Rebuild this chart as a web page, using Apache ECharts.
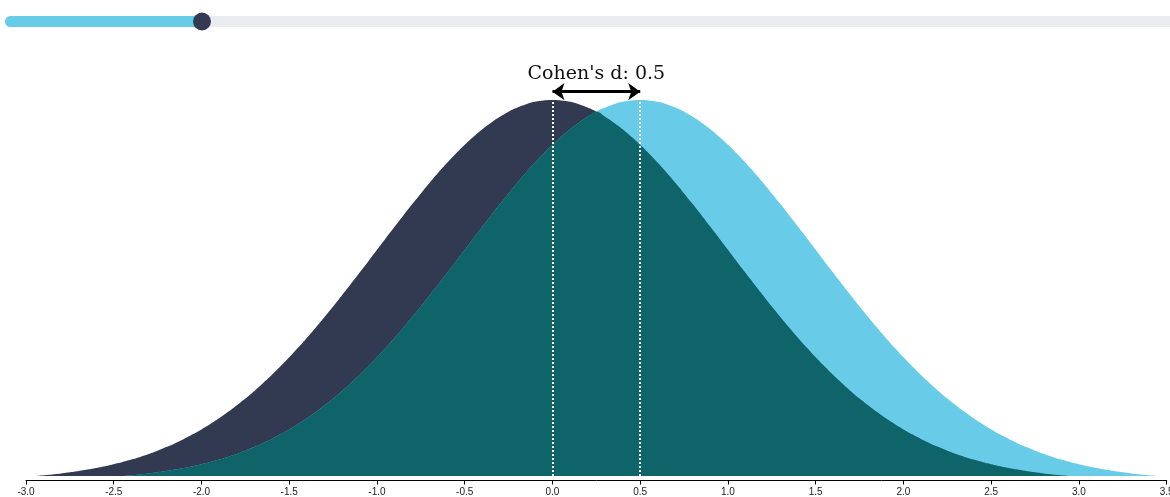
<!DOCTYPE html>
<html>
<head>
<meta charset="utf-8">
<script src="https://cdn.jsdelivr.net/npm/echarts@6/dist/echarts.min.js"></script>
<style>html,body{margin:0;padding:0;background:#fff;overflow:hidden;}#c{width:1170px;height:497px;}</style>
</head>
<body>
<div id="c"></div>
<script>
// Effect size shown by the slider
const cohensD = 0.5;
const sliderMax = 3;
// x positions (step 0.05) for the control group curve, from -3 to 3
const xStep = 0.05;
const xStart = -3;
// Density heights (control curve, x = -3 .. 3 in 0.05 steps)
const density = [
0.0044,0.0051,0.0060,0.0069,0.0079,0.0091,0.0104,0.0119,0.0136,0.0154,
0.0175,0.0198,0.0224,0.0252,0.0283,0.0317,0.0355,0.0396,0.0440,0.0488,
0.0540,0.0596,0.0656,0.0721,0.0790,0.0863,0.0940,0.1023,0.1109,0.1200,
0.1295,0.1394,0.1497,0.1604,0.1714,0.1826,0.1942,0.2059,0.2179,0.2299,
0.2420,0.2541,0.2661,0.2780,0.2897,0.3011,0.3123,0.3230,0.3332,0.3429,
0.3521,0.3605,0.3683,0.3752,0.3814,0.3867,0.3910,0.3945,0.3970,0.3984,
0.3989,
0.3984,0.3970,0.3945,0.3910,0.3867,0.3814,0.3752,0.3683,0.3605,0.3521,
0.3429,0.3332,0.3230,0.3123,0.3011,0.2897,0.2780,0.2661,0.2541,0.2420,
0.2299,0.2179,0.2059,0.1942,0.1826,0.1714,0.1604,0.1497,0.1394,0.1295,
0.1200,0.1109,0.1023,0.0940,0.0863,0.0790,0.0721,0.0656,0.0596,0.0540,
0.0488,0.0440,0.0396,0.0355,0.0317,0.0283,0.0252,0.0224,0.0198,0.0175,
0.0154,0.0136,0.0119,0.0104,0.0091,0.0079,0.0069,0.0060,0.0051,0.0044
];
const xTickLabels = ['-3.0','-2.5','-2.0','-1.5','-1.0','-0.5','0.0','0.5','1.0','1.5','2.0','2.5','3.0','3.5'];
// vertical scale: baseline of the drawing
const yMin = 0.0052;
const yMax = 0.4408;
const arrowY = 0.4076;

const r2 = v => Math.round(v * 100) / 100;
const shiftIdx = Math.round(cohensD / xStep);
const controlData = density.map((y, i) => [r2(xStart + i * xStep), y]);
const treatData = density.map((y, i) => [r2(xStart + cohensD + i * xStep), y]);
const overlapData = [];
for (let i = shiftIdx; i < density.length; i++) {
  overlapData.push([r2(xStart + i * xStep), Math.min(density[i], density[i - shiftIdx])]);
}
const peak = Math.max.apply(null, density);

const chart = echarts.init(document.getElementById('c'), null, {renderer: 'canvas'});
const sliderLeft = 5, sliderWidth = 1182;
const knobX = sliderLeft + sliderWidth * cohensD / sliderMax;

const areaSeries = (name, data, color, z) => ({
  name, type: 'line', data, smooth: true, showSymbol: false, symbol: 'none', clip: true,
  lineStyle: {width: 0}, areaStyle: {color, opacity: 1}, z, silent: true
});

const dotted = {color: '#fff', width: 2, type: [2, 2]};
const overlap = areaSeries('overlap', overlapData, '#0e6468', 3);
overlap.markLine = {
  silent: true, symbol: 'none', animation: false,
  data: [
    [{coord: [0, yMin], lineStyle: dotted}, {coord: [0, peak]}],
    [{coord: [cohensD, yMin], lineStyle: dotted}, {coord: [cohensD, peak]}],
    [{coord: [0, arrowY], symbol: 'arrow', symbolSize: [13, 12],
      lineStyle: {color: '#000', width: 3, type: 'solid'},
      label: {show: true, position: 'insideMiddleTop', distance: 8, formatter: "Cohen's d: " + cohensD,
        color: '#111', fontSize: 19, fontFamily: 'DejaVu Serif'}},
     {coord: [cohensD, arrowY], symbol: 'arrow', symbolSize: [13, 12]}]
  ]
};

chart.setOption({
  animation: false,
  grid: {left: 26, right: 3.3, top: 60, bottom: 21, containLabel: false, outerBoundsMode: 'none'},
  xAxis: {
    type: 'value', min: -3, max: 3.5, interval: 0.5, offset: 4.5,
    axisLine: {show: true, onZero: false, lineStyle: {color: '#000', width: 1}},
    axisTick: {show: true, length: 4, lineStyle: {color: '#000'}},
    axisLabel: {fontSize: 10, color: '#222', margin: 7, fontFamily: 'Liberation Sans',
      showMaxLabel: true, showMinLabel: true, hideOverlap: false,
      formatter: v => xTickLabels[Math.round((v + 3) / 0.5)]},
    splitLine: {show: false}
  },
  yAxis: {type: 'value', min: yMin, max: yMax, show: false, splitLine: {show: false}},
  series: [
    areaSeries('control', controlData, '#323a51', 1),
    areaSeries('treatment', treatData, '#68cce9', 2),
    overlap
  ],
  graphic: [
    {type: 'rect', shape: {x: sliderLeft, y: 16, width: sliderWidth, height: 11, r: 5.5}, style: {fill: '#ebecef'}},
    {type: 'rect', shape: {x: sliderLeft, y: 16, width: knobX - sliderLeft, height: 11, r: 5.5}, style: {fill: '#68cbe8'}},
    {type: 'circle', shape: {cx: knobX, cy: 21.5, r: 9}, style: {fill: '#333a52'}}
  ]
});
</script>
</body>
</html>
